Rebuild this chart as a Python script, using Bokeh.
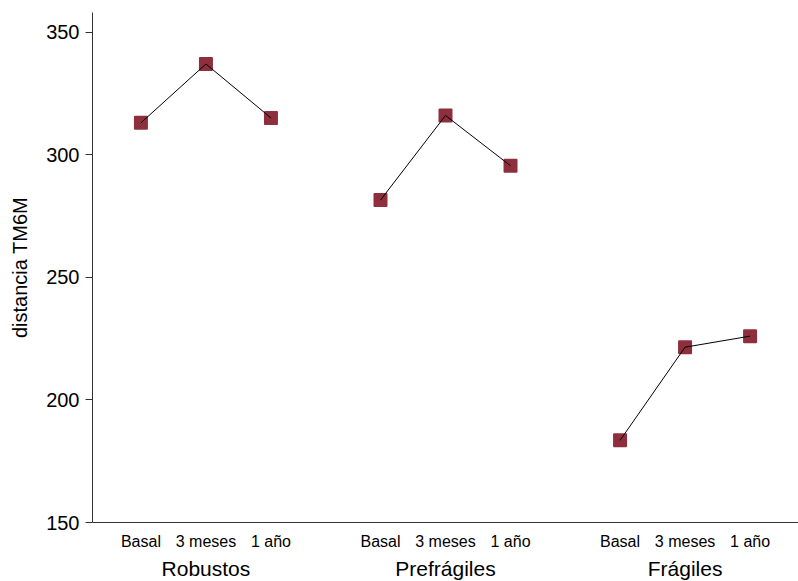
from bokeh.plotting import figure
from bokeh.models import FactorRange, Range1d, ColumnDataSource, FixedTicker
from bokeh.embed import file_html
from bokeh.resources import INLINE

groups = ["Robustos", "Prefrágiles", "Frágiles"]
times = ["Basal", "3 meses", "1 año"]
robustos = [313, 337, 315]
prefragiles = [281.5, 316, 295.5]
fragiles = [183.5, 221.5, 226]
values = [robustos, prefragiles, fragiles]
y_ticks = [150, 200, 250, 300, 350]

factors = [(g, t) for g in groups for t in times]
x_range = FactorRange(*factors, group_padding=0.685, range_padding=0.245,
                      range_padding_units="absolute")

p = figure(x_range=x_range, y_range=Range1d(150, 358),
           frame_width=706, frame_height=510,
           min_border_left=92, min_border_top=12, min_border_right=0, min_border_bottom=0,
           output_backend="svg", toolbar_location=None)

color = "#8E2F3D"
for g, vals in zip(groups, values):
    src = ColumnDataSource(dict(x=[(g, t) for t in times], y=vals))
    p.scatter("x", "y", source=src, marker="square", size=12,
              fill_color=color, line_color=color, line_width=2, line_join="round")
    p.line("x", "y", source=src, line_color="black", line_width=1)

p.outline_line_color = None
p.xgrid.visible = False
p.ygrid.visible = False
p.background_fill_color = "white"
p.border_fill_color = "white"

ya = p.yaxis[0]
ya.ticker = FixedTicker(ticks=y_ticks)
ya.minor_tick_line_color = None
ya.major_tick_out = 7
ya.major_tick_in = 0
ya.axis_line_color = "#333333"
ya.major_tick_line_color = "#333333"
ya.major_label_text_font = "Liberation Sans"
ya.major_label_text_font_size = "20px"
ya.major_label_text_color = "black"
ya.major_label_standoff = 6
ya.axis_label = "distancia TM6M"
ya.axis_label_text_font = "Liberation Sans"
ya.axis_label_text_font_size = "20px"
ya.axis_label_text_font_style = "normal"
ya.axis_label_text_color = "black"
ya.axis_label_standoff = 12

xa = p.xaxis[0]
xa.axis_line_color = "#333333"
xa.major_tick_line_color = None
xa.minor_tick_line_color = None
xa.major_label_text_font = "Liberation Sans"
xa.major_label_text_font_size = "16px"
xa.major_label_text_color = "black"
xa.major_label_standoff = 4
xa.group_text_font = "Liberation Sans"
xa.group_text_font_size = "21px"
xa.group_text_font_style = "normal"
xa.group_text_color = "black"
xa.separator_line_alpha = 0

open("out.html", "w").write(file_html(p, INLINE))
